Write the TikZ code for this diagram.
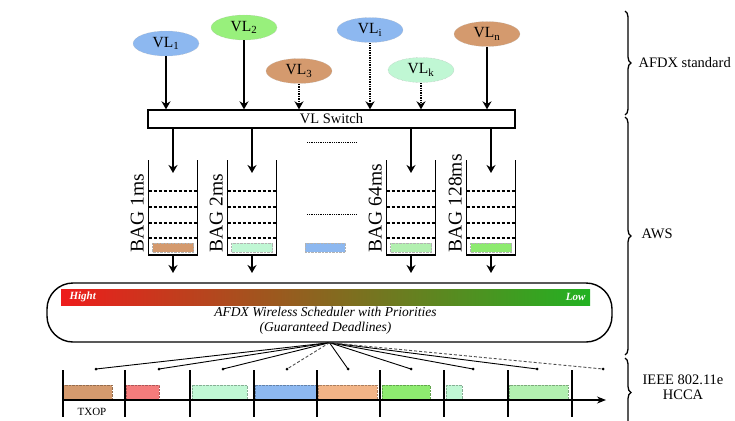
\documentclass[tikz,border=0pt]{standalone}
\usepackage{fontspec}
\setmainfont{Liberation Serif}
\usetikzlibrary{arrows.meta,shapes.geometric,decorations.pathreplacing}

\definecolor{vlblue}{HTML}{8DB8F0}
\definecolor{vlgreen}{HTML}{98F07C}
\definecolor{vlbrown}{HTML}{D49A6E}
\definecolor{vlmint}{HTML}{C0F7D4}
\definecolor{vlorange}{HTML}{F2B487}
\definecolor{vlred}{HTML}{F47C7C}
\definecolor{vllime}{HTML}{8EEB70}
\definecolor{vlpale}{HTML}{B2F0B0}
\definecolor{prihigh}{HTML}{EE1C1C}
\definecolor{primid}{HTML}{9A5A10}
\definecolor{prilow}{HTML}{22B222}

\newcommand{\bagqueue}[4]{\draw[queue] (#1-24.5,160) -- (#1-24.5,255) -- (#1+24.5,255) -- (#1+24.5,160);
        \foreach \y in {191,207,223,238} \draw[slot] (#1-24.5,\y) -- (#1+24.5,\y);
        \node[pkt, fill=#4, minimum width=41pt] (#2-pkt) at (#1,247.5) {};
        \node[baglabel] (#2-lbl) at (#1-29.5,252.5) {#3};
        \coordinate (#2-in) at (#1,173);
        \coordinate (#2-out) at (#1,255);
        \coordinate (#2-end) at (#1,273);
    }

\begin{document}
\begin{tikzpicture}
                [x=1pt, y=-1pt,
                vl/.style={ellipse, minimum width=66pt, minimum height=25pt, inner sep=0pt, draw=black!30, densely dotted, font=\fontsize{15.5}{15}\selectfont},
                flow/.style={-{Stealth[length=8pt,width=9pt]}, line width=1.4pt},
                queue/.style={line width=1.3pt},
                slot/.style={line width=1.2pt, dash pattern=on 3pt off 2pt},
                pkt/.style={minimum height=9pt, inner sep=0pt, draw=black!30, densely dotted},
                baglabel/.style={rotate=90, anchor=base west, inner sep=0pt, font=\fontsize{19.5}{20}\selectfont},
                fan/.style={line width=0.9pt},
                txblock/.style={densely dotted, thin},
                tick/.style={line width=1.2pt},
                brace/.style={decorate, decoration={brace, amplitude=6pt}, line width=1.3pt},
                side/.style={font=\fontsize{14.5}{15}\selectfont},
                ]
                \useasboundingbox (0,0) rectangle (735,420);
                \node[vl, fill=vlblue] (vl1) at (166,43.5) {VL\textsubscript{1}};
                \node[vl, fill=vlgreen] (vl2) at (244,27.5) {VL\textsubscript{2}};
                \node[vl, fill=vlbrown] (vl3) at (299,71) {VL\textsubscript{3}};
                \node[vl, fill=vlblue] (vli) at (370,30) {VL\textsubscript{i}};
                \node[vl, fill=vlmint] (vlk) at (421,70) {VL\textsubscript{k}};
                \node[vl, fill=vlbrown] (vln) at (487,34) {VL\textsubscript{n}};
                \node[draw, line width=1.3pt, minimum width=367pt, minimum height=18pt, inner sep=1pt, font=\fontsize{14.5}{15}\selectfont] (sw) at (331.5,119) {VL Switch};
                \foreach \v in {1,2,n} \draw[flow] (vl\v) -- (vl\v.south |- sw.north);
                \foreach \v in {3,i,k} \draw[flow, densely dotted] (vl\v) -- (vl\v.south |- sw.north);
                \bagqueue{173}{q1}{BAG 1ms}{vlbrown}
                \bagqueue{252}{q2}{BAG 2ms}{vlmint}
                \bagqueue{411}{q3}{BAG 64ms}{vlpale}
                \bagqueue{491}{q4}{BAG 128ms}{vllime}
                \foreach \q in {q1,q2,q3,q4}{\draw[flow] (sw.south -| \q-in) -- (\q-in);
                    \draw[flow] (\q-out) -- (\q-end);}
                \draw[densely dotted, thick] (307,142) -- (357,142);
                \draw[densely dotted, thick] (307,214) -- (357,214);
                \node[pkt, fill=vlblue, minimum width=40pt] (midpkt) at (325,247.5) {};
                \node[draw, line width=1.4pt, rounded corners=26pt, minimum width=565pt, minimum height=59pt] (sched) at (329.5,312.5) {};
                \shade[left color=prihigh, middle color=primid, right color=prilow] (61,289) rectangle (590,305);
                \node[anchor=west, text=white, font=\fontsize{11}{11}\selectfont\bfseries\itshape] (hi) at (66,297) {Hight};
                \node[anchor=east, text=white, font=\fontsize{11}{11}\selectfont\bfseries\itshape] (lo) at (589,297) {Low};
                \node[align=center, font=\fontsize{13.5}{15}\selectfont\itshape] (stext) at (325.5,321) {AFDX Wireless Scheduler with Priorities\\(Guaranteed Deadlines)};
                \foreach \x [count=\i] in {96,159,223,287,348,411,473,537,603} \coordinate (tx\i) at (\x,369);
                \foreach \i in {1,2,3,5,6,7,8} \draw[fan] (sched.south) -- (tx\i);
                \foreach \i in {4,9} \draw[fan, densely dashed, black!70] (sched.south) -- (tx\i);
                \foreach \i in {1,...,9} \fill (tx\i) circle (1.5pt);
                \foreach \a/\b/\c in {63/112/vlbrown, 126/159/vlred, 192/247/vlmint, 255/317/vlblue, 318/377/vlorange, 382/430/vllime, 446/462/vlmint, 509/568/vlpale}
                    \draw[txblock, fill=\c, draw=\c!70!black] (\a,385) rectangle (\b,400);
                \coordinate (t0) at (63,400);
                \coordinate (tend) at (606,400);
                \draw[-{Stealth[length=9pt,width=7pt]}, line width=1.1pt] (t0) -- (tend);
                \foreach \x [count=\i] in {63,125,190,254,317,380,444,508,572}{\coordinate (tk\i) at (\x,370);
                    \draw[tick] (tk\i) -- ++(0,47);}
                \node[font=\fontsize{11}{12}\selectfont] (txop) at (92,412) {TXOP};
                \draw[brace] (625,11) -- (625,115);
                \draw[brace] (625,117) -- (625,355);
                \draw[brace] (625,358) -- (625,427);
                \node[side, anchor=west] (lafdx) at (635,63) {AFDX standard};
                \node[side, anchor=west] (laws) at (638,234) {AWS};
                \node[side, align=center] (lieee) at (683,387) {IEEE 802.11e\\HCCA};
            \end{tikzpicture}
\end{document}
